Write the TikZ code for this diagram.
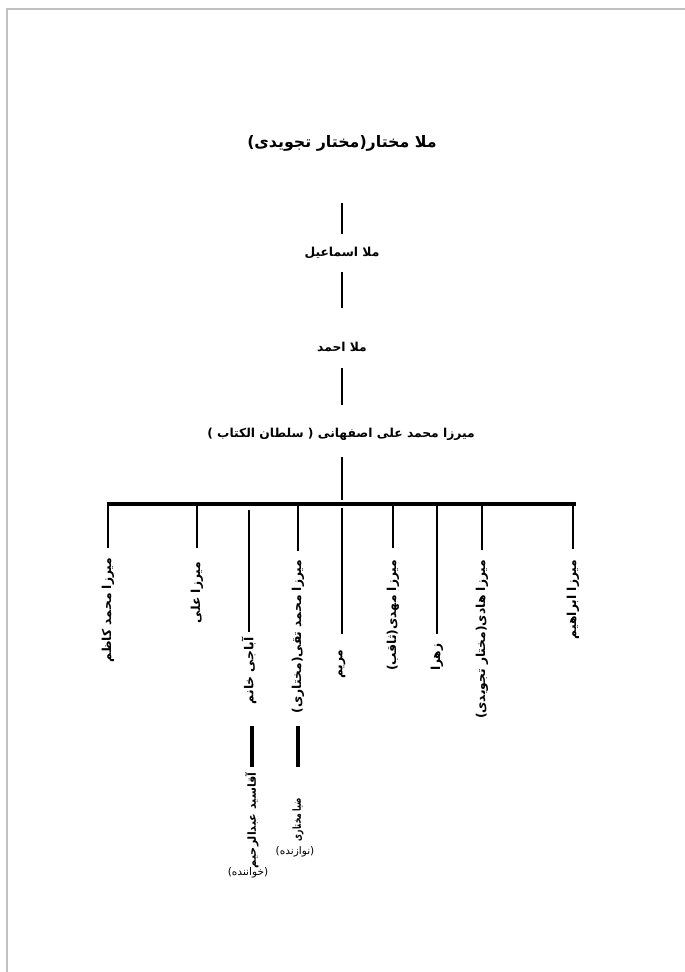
\documentclass[tikz,border=0pt]{standalone}
\usepackage{fontspec}
\newfontfamily\farsi[Script=Arabic]{DejaVu Sans}
\TeXXeTstate=1
\tikzset{
  person/.style={font=\farsi\bfseries\fontsize{10.5}{12}\selectfont, inner sep=1pt},
  title/.style={person, font=\farsi\bfseries\fontsize{13.5}{15}\selectfont},
  son/.style={person, rotate=90, anchor=east},
  grandson/.style={son, font=\farsi\bfseries\fontsize{9.5}{11}\selectfont},
  role/.style={font=\farsi\fontsize{9}{10}\selectfont, inner sep=1pt},
  link/.style={line width=1.6pt},
  stem/.style={line width=1.8pt},
  gstem/.style={line width=3pt},
  bar/.style={line width=2.8pt},
  pageedge/.style={line width=2.4pt, color=edgegray}
}
\definecolor{edgegray}{RGB}{192,192,197}
\begin{document}
\begin{tikzpicture}[x=0.03cm,y=-0.03cm]
    \useasboundingbox (0,0) rectangle (685,972);
    % page edge
    \draw[pageedge] (7,972) -- (7,9) -- (685,9);

    %ancestors
    \node[title] (mokhtar) at (342,143) {\beginR ملا مختار(مختار تجویدی)\endR};
    \node[person] (esmail) at (342,253) {\beginR ملا اسماعیل\endR};
    \node[person] (ahmad) at (342,347) {\beginR ملا احمد\endR};
    \node[person] (soltan) at (341,434) {\beginR میرزا محمد علی اصفهانی ( سلطان الکتاب )\endR};

    \draw[link, shorten <=1.8cm, shorten >=0.57cm] (mokhtar.center) -- (esmail.center);
    \draw[link, shorten <=0.57cm, shorten >=1.17cm] (esmail.center) -- (ahmad.center);
    \draw[link, shorten <=0.63cm, shorten >=0.87cm] (ahmad.center) -- (soltan.center -| ahmad);

    %bar of the children
    \coordinate (hub) at (342,504);
    \coordinate (barL) at (107,504);
    \coordinate (barR) at (576,504);
    \draw[link, shorten <=0.69cm, shorten >=0.12cm] (soltan.center -| hub) -- (hub);
    \draw[bar] (barL) -- (barR);

    %children
    \node[son] (kazem) at (108,556) {\beginR میرزا محمد کاظم\endR};
    \node[son] (ali) at (197,560) {\beginR میرزا علی\endR};
    \node[son] (abaji) at (249,636) {\beginR آباجی خانم\endR};
    \node[son] (taghi) at (298,558) {\beginR میرزا محمد تقی(مختاری)\endR};
    \node[son] (maryam) at (342,648) {\beginR مریم\endR};
    \node[son] (mahdi) at (393,558) {\beginR میرزا مهدی(ثاقب)\endR};
    \node[son] (zahra) at (437,642) {\beginR زهرا\endR};
    \node[son] (hadi) at (482,558) {\beginR میرزا هادی(مختار تجویدی)\endR};
    \node[son] (ebrahim) at (573,558) {\beginR میرزا ابراهیم\endR};

    \draw[stem, shorten >=0.24cm] (kazem.east |- hub) -- (kazem.east);
    \draw[stem, shorten >=0.36cm] (ali.east |- hub) -- (ali.east);
    \draw[stem, shorten <=0.18cm, shorten >=0.12cm] (abaji.east |- hub) -- (abaji.east);
    \draw[stem, shorten >=0.21cm] (taghi.east |- hub) -- (taghi.east);
    \draw[stem, shorten <=0.12cm, shorten >=0.42cm] (maryam.east |- hub) -- (maryam.east);
    \draw[stem, shorten >=0.30cm] (mahdi.east |- hub) -- (mahdi.east);
    \draw[stem, shorten >=0.24cm] (zahra.east |- hub) -- (zahra.east);
    \draw[stem, shorten >=0.24cm] (hadi.east |- hub) -- (hadi.east);
    \draw[stem, shorten >=0.27cm] (ebrahim.east |- hub) -- (ebrahim.east);

    %grandchildren
    \node[grandson] (rahim) at (252,771) {\beginR آقاسید عبدالرحیم\endR};
    \node[role] (rahimrole) at (248,873) {\beginR (خواننده)\endR};
    \node[grandson, xscale=0.68] (zia) at (298,797) {\beginR ضیا مختاری\endR};
    \node[role] (ziarole) at (295,852) {\beginR (نوازنده)\endR};

    \coordinate (rahimtop) at (252,726);
    \coordinate (ziatop) at (298,726);
    \draw[gstem, shorten >=0.12cm] (rahimtop) -- (rahim.east);
    \draw[gstem, shorten >=0.9cm] (ziatop) -- (zia.east);
\end{tikzpicture}
\end{document}
